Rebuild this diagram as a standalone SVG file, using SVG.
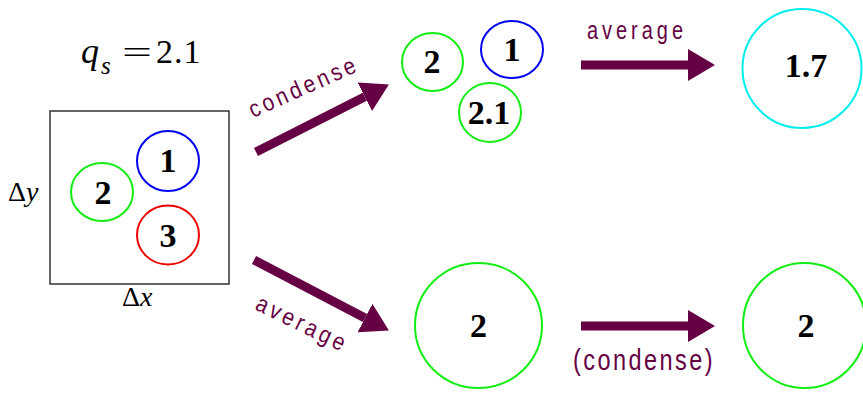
<svg xmlns="http://www.w3.org/2000/svg" width="863" height="393" viewBox="0 0 863 393">
<defs>
<style>
.num{font-family:"Liberation Serif","Times New Roman",serif;font-weight:bold;font-size:34px;fill:#000;text-anchor:middle}
.math{font-family:"Liberation Serif","Times New Roman",serif;fill:#000}
.lbl{font-family:"Liberation Sans",Arial,sans-serif;fill:#660044}
.g{fill:none;stroke:#11ee11;stroke-width:2}
.b{fill:none;stroke:#0000ee;stroke-width:2}
.r{fill:none;stroke:#ee0000;stroke-width:2}
.c{fill:none;stroke:#00eeee;stroke-width:2}
.arr{stroke:#660044;stroke-width:9;fill:none;marker-end:url(#head)}
</style>
<marker id="head" markerUnits="userSpaceOnUse" viewBox="0 0 27 32" refX="0" refY="16" markerWidth="27" markerHeight="32" orient="auto">
<path d="M0,0 L27,16 L0,32 z" fill="#660044"/>
</marker>
</defs>
<rect width="863" height="393" fill="#fff"/>

<g id="equation">
<text class="math" x="81" y="63" font-size="36" font-style="italic">q</text>
<text class="math" x="101" y="74" font-size="25" font-style="italic">s</text>
<text class="math" x="122" y="63" font-size="32" textLength="30" lengthAdjust="spacingAndGlyphs">=</text>
<text class="math" x="156" y="63" font-size="34" letter-spacing="1">2.1</text>
</g>

<g id="grid-box">
<rect x="50" y="111" width="179" height="173" fill="none" stroke="#333" stroke-width="1.5"/>
<text class="math" x="8" y="201" font-size="28">Δ<tspan font-style="italic">y</tspan></text>
<text class="math" x="122" y="306" font-size="28">Δ<tspan font-style="italic">x</tspan></text>
</g>

<g id="box-drop-1">
<ellipse class="b" cx="168" cy="161" rx="31" ry="30"/>
<text class="num" x="168" y="172">1</text>
</g>
<g id="box-drop-2">
<ellipse class="g" cx="102" cy="192" rx="31" ry="29"/>
<text class="num" x="103" y="204">2</text>
</g>
<g id="box-drop-3">
<ellipse class="r" cx="168" cy="235" rx="31" ry="29.5"/>
<text class="num" x="168" y="247">3</text>
</g>

<g id="condensed-2">
<ellipse class="g" cx="432.5" cy="62" rx="30.5" ry="29"/>
<text class="num" x="432" y="73">2</text>
</g>
<g id="condensed-1">
<ellipse class="b" cx="512" cy="49.5" rx="31" ry="28.5"/>
<text class="num" x="512" y="61">1</text>
</g>
<g id="condensed-2-1">
<ellipse class="g" cx="490" cy="112.5" rx="31" ry="29.5"/>
<text class="num" x="489" y="124">2.1</text>
</g>

<g id="result-1-7">
<circle class="c" cx="802" cy="68.5" r="59.5"/>
<text class="num" x="806" y="77">1.7</text>
</g>

<g id="averaged-2">
<ellipse class="g" cx="478.5" cy="325.5" rx="63.5" ry="62.5"/>
<text class="num" x="478.5" y="337">2</text>
</g>

<g id="result-2">
<ellipse class="g" cx="804.5" cy="325.5" rx="61.5" ry="62.5"/>
<text class="num" x="806" y="337">2</text>
</g>

<g id="connectors">
<path class="arr" d="M256,152 L364.8,96.8"/>
<path class="arr" d="M254,260 L365,318"/>
<path class="arr" d="M581,65 L688,65"/>
<path class="arr" d="M581,326 L688,326"/>
<text class="lbl" x="253" y="118" font-size="24" letter-spacing="4" textLength="118" lengthAdjust="spacingAndGlyphs" transform="rotate(-24 253 118)">condense</text>
<text class="lbl" x="254" y="309" font-size="24" letter-spacing="4" textLength="100" lengthAdjust="spacingAndGlyphs" transform="rotate(26 254 309)">average</text>
<text class="lbl" x="587" y="39" font-size="25" letter-spacing="5" textLength="100" lengthAdjust="spacingAndGlyphs">average</text>
<text class="lbl" x="573" y="370" font-size="29" letter-spacing="3" textLength="142" lengthAdjust="spacingAndGlyphs">(condense)</text>
</g>
</svg>
